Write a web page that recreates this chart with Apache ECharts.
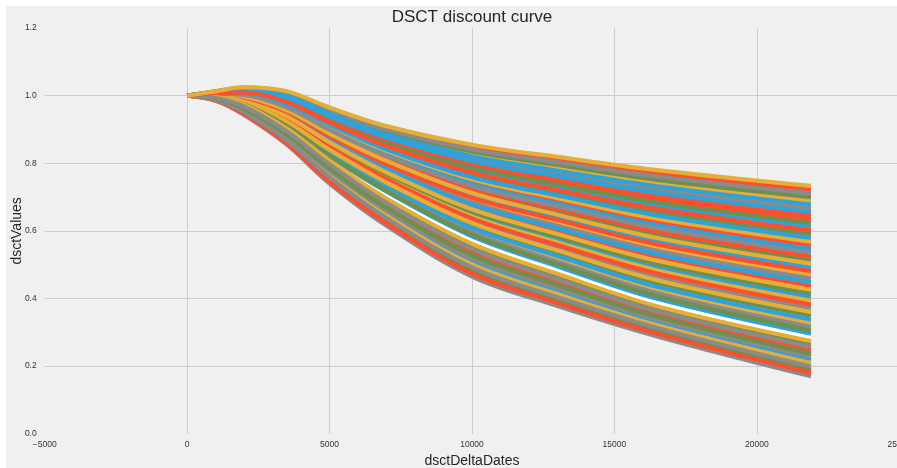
<!DOCTYPE html>
<html>
<head>
<meta charset="utf-8">
<title>DSCT discount curve</title>
<script src="https://cdn.jsdelivr.net/npm/echarts@6/dist/echarts.min.js"></script>
<style>
  html, body { margin: 0; padding: 0; background: #ffffff; }
  #chart { position: absolute; left: 6px; top: 6px; width: 891px; height: 462px; background: #f0f0f0; }
</style>
</head>
<body>
<div id="chart"></div>
<script>
// Days from the valuation date at which every discount curve is sampled
const dayPoints = [0, 1000, 2000, 3500, 5000, 7000, 10000, 13000, 16500, 21900];

// Reference curve separating the two scenario groups (drawn first, underneath)
const separatorCurve = [1.000, 0.995, 0.973, 0.905, 0.814, 0.706, 0.573, 0.484, 0.388, 0.285];

// Simulated discount factors, one row per scenario, in plotting order
const curveValues = [
  [1, 1.003, 0.996, 0.955, 0.884, 0.802, 0.705, 0.640, 0.569, 0.492],
  [1, 1.006, 1.004, 0.971, 0.906, 0.832, 0.746, 0.689, 0.627, 0.557],
  [1, 1.002, 0.994, 0.949, 0.877, 0.792, 0.691, 0.623, 0.550, 0.470],
  [1, 1.004, 0.999, 0.960, 0.891, 0.812, 0.718, 0.656, 0.588, 0.513],
  [1, 1.002, 0.993, 0.947, 0.873, 0.787, 0.684, 0.615, 0.541, 0.459],
  [1, 0.999, 0.986, 0.933, 0.855, 0.763, 0.650, 0.574, 0.493, 0.404],
  [1, 1.001, 0.990, 0.941, 0.866, 0.778, 0.671, 0.599, 0.521, 0.437],
  [1, 0.999, 0.985, 0.931, 0.851, 0.758, 0.643, 0.566, 0.483, 0.393],
  [1, 0.997, 0.980, 0.920, 0.836, 0.739, 0.616, 0.534, 0.445, 0.349],
  [1, 0.985, 0.943, 0.855, 0.740, 0.615, 0.465, 0.378, 0.288, 0.170],
  [1, 1.008, 1.011, 0.984, 0.925, 0.856, 0.780, 0.729, 0.675, 0.612],
  [1, 1.013, 1.024, 1.010, 0.961, 0.905, 0.848, 0.811, 0.770, 0.722],
  [1, 1.011, 1.020, 1.002, 0.950, 0.890, 0.828, 0.786, 0.742, 0.689],
  [1, 0.987, 0.948, 0.864, 0.753, 0.630, 0.483, 0.396, 0.305, 0.189],
  [1, 0.998, 0.982, 0.926, 0.844, 0.748, 0.630, 0.550, 0.464, 0.371],
  [1, 0.990, 0.957, 0.877, 0.772, 0.653, 0.510, 0.422, 0.329, 0.218],
  [1, 0.986, 0.946, 0.859, 0.746, 0.623, 0.474, 0.387, 0.296, 0.180],
  [1, 0.996, 0.977, 0.915, 0.829, 0.729, 0.602, 0.517, 0.426, 0.327],
  [1, 1.000, 0.987, 0.936, 0.858, 0.768, 0.657, 0.583, 0.502, 0.415],
  [1, 1.010, 1.017, 0.997, 0.943, 0.881, 0.814, 0.770, 0.723, 0.667],
  [1, 0.995, 0.973, 0.907, 0.820, 0.716, 0.584, 0.495, 0.399, 0.296],
  [1, 1.009, 1.013, 0.989, 0.932, 0.866, 0.794, 0.746, 0.694, 0.634],
  [1, 0.989, 0.954, 0.872, 0.765, 0.645, 0.501, 0.413, 0.321, 0.209],
  [1, 1.012, 1.021, 1.005, 0.954, 0.895, 0.835, 0.795, 0.751, 0.700],
  [1, 0.988, 0.951, 0.868, 0.759, 0.638, 0.492, 0.404, 0.313, 0.199],
  [1, 1.005, 1.003, 0.968, 0.903, 0.827, 0.739, 0.680, 0.617, 0.546],
  [1, 0.999, 0.983, 0.928, 0.847, 0.753, 0.637, 0.558, 0.474, 0.382],
  [1, 1.006, 1.006, 0.973, 0.910, 0.837, 0.753, 0.697, 0.636, 0.568],
  [1, 0.994, 0.970, 0.899, 0.804, 0.690, 0.555, 0.466, 0.371, 0.266],
  [1, 0.996, 0.976, 0.912, 0.825, 0.724, 0.596, 0.509, 0.416, 0.316],
  [1, 1.001, 0.991, 0.944, 0.869, 0.783, 0.678, 0.607, 0.531, 0.448],
  [1, 1.004, 1.000, 0.963, 0.895, 0.817, 0.725, 0.664, 0.598, 0.524],
  [1, 1.000, 0.989, 0.939, 0.862, 0.773, 0.664, 0.591, 0.512, 0.426],
  [1, 1.007, 1.008, 0.979, 0.917, 0.846, 0.766, 0.713, 0.656, 0.590],
  [1, 1.012, 1.022, 1.008, 0.958, 0.900, 0.841, 0.803, 0.761, 0.711],
  [1, 1.011, 1.019, 1.000, 0.947, 0.885, 0.821, 0.778, 0.732, 0.678],
  [1, 1.003, 0.995, 0.952, 0.880, 0.797, 0.698, 0.632, 0.560, 0.481],
  [1, 1.004, 0.998, 0.957, 0.888, 0.807, 0.712, 0.648, 0.579, 0.503],
  [1, 1.008, 1.012, 0.986, 0.928, 0.861, 0.787, 0.737, 0.684, 0.623],
  [1, 0.990, 0.959, 0.881, 0.778, 0.660, 0.519, 0.431, 0.338, 0.228],
  [1, 0.997, 0.978, 0.918, 0.833, 0.734, 0.609, 0.526, 0.435, 0.338],
  [1, 0.992, 0.965, 0.890, 0.791, 0.675, 0.537, 0.449, 0.354, 0.247],
  [1, 0.998, 0.981, 0.923, 0.840, 0.743, 0.623, 0.542, 0.454, 0.360],
  [1, 0.995, 0.974, 0.910, 0.822, 0.719, 0.589, 0.501, 0.407, 0.305],
  [1, 1.005, 1.002, 0.965, 0.899, 0.822, 0.732, 0.672, 0.608, 0.535],
  [1, 1.007, 1.007, 0.976, 0.914, 0.841, 0.759, 0.705, 0.646, 0.579],
  [1, 1.009, 1.015, 0.992, 0.936, 0.871, 0.800, 0.754, 0.703, 0.645],
  [1, 0.995, 0.973, 0.903, 0.808, 0.696, 0.562, 0.473, 0.377, 0.274],
  [1, 0.991, 0.962, 0.886, 0.785, 0.668, 0.528, 0.440, 0.346, 0.237],
  [1, 0.993, 0.968, 0.894, 0.797, 0.683, 0.546, 0.457, 0.362, 0.257],
  [1, 1.010, 1.016, 0.994, 0.939, 0.876, 0.807, 0.762, 0.713, 0.656],
  [1, 1.008, 1.009, 0.981, 0.921, 0.851, 0.773, 0.721, 0.665, 0.601],
  [1, 1.013, 1.025, 1.013, 0.965, 0.910, 0.855, 0.819, 0.780, 0.733]
];

// fivethirtyeight colour cycle
const lineColors = ['#30a2da', '#fc4f30', '#e5ae38', '#6d904f', '#8b8b8b'];

// Axis ranges and tick spacing
const xRange = [-5000, 25000, 5000];
const yRange = [0, 1.2, 0.2];

const pairUp = (vals) => dayPoints.map((d, i) => [d, vals[i]]);

const series = [{
  type: 'line',
  data: pairUp(separatorCurve),
  showSymbol: false,
  smooth: 0.35,
  lineStyle: { color: '#ffffff', width: 5 },
  silent: true
}];

curveValues.forEach((row, i) => {
  series.push({
    type: 'line',
    data: pairUp(row),
    showSymbol: false,
    smooth: 0.35,
    lineStyle: { color: lineColors[i % lineColors.length], width: 4.2 },
    silent: true
  });
});

const textFont = '"Liberation Sans", Arial, Helvetica, sans-serif';
const plotBox = { left: 38.7, top: 22.1, width: 854.6, height: 405.6 };
const chart = echarts.init(document.getElementById('chart'), null, { renderer: 'canvas' });

chart.setOption({
  animation: false,
  backgroundColor: '#f0f0f0',
  grid: {
    left: plotBox.left, top: plotBox.top, width: plotBox.width, height: plotBox.height,
    containLabel: false,
    outerBoundsMode: 'none'
  },
  graphic: [{
    type: 'text',
    x: 466,
    y: 11.5,
    style: {
      text: 'DSCT discount curve',
      fill: '#262626',
      font: '17px ' + textFont,
      textAlign: 'center',
      textVerticalAlign: 'middle'
    }
  }, {
    type: 'text',
    x: 11,
    y: plotBox.top + plotBox.height / 2,
    rotation: Math.PI / 2,
    style: {
      text: 'dsctValues',
      fill: '#262626',
      font: '14px ' + textFont,
      textAlign: 'center',
      textVerticalAlign: 'middle'
    }
  }],
  xAxis: {
    type: 'value',
    min: xRange[0],
    max: xRange[1],
    interval: xRange[2],
    name: 'dsctDeltaDates',
    nameLocation: 'middle',
    nameGap: 27.3,
    nameTextStyle: { fontSize: 14, color: '#262626', fontFamily: textFont, verticalAlign: 'middle' },
    axisLine: { show: false },
    axisTick: { show: false },
    axisLabel: {
      margin: 6,
      fontSize: 8.5,
      color: '#333333',
      fontFamily: textFont,
      formatter: (v) => (v < 0 ? '\u2212' : '') + Math.abs(v)
    },
    splitLine: { show: true, showMinLine: false, showMaxLine: false, lineStyle: { color: '#cbcbcb', width: 1 } }
  },
  yAxis: {
    type: 'value',
    min: yRange[0],
    max: yRange[1],
    interval: yRange[2],
    axisLine: { show: false },
    axisTick: { show: false },
    axisLabel: {
      margin: 8,
      fontSize: 8.5,
      color: '#333333',
      fontFamily: textFont,
      formatter: (v) => v.toFixed(1)
    },
    splitLine: { show: true, showMinLine: false, showMaxLine: false, lineStyle: { color: '#cbcbcb', width: 1 } }
  },
  series: series
});
</script>
</body>
</html>
